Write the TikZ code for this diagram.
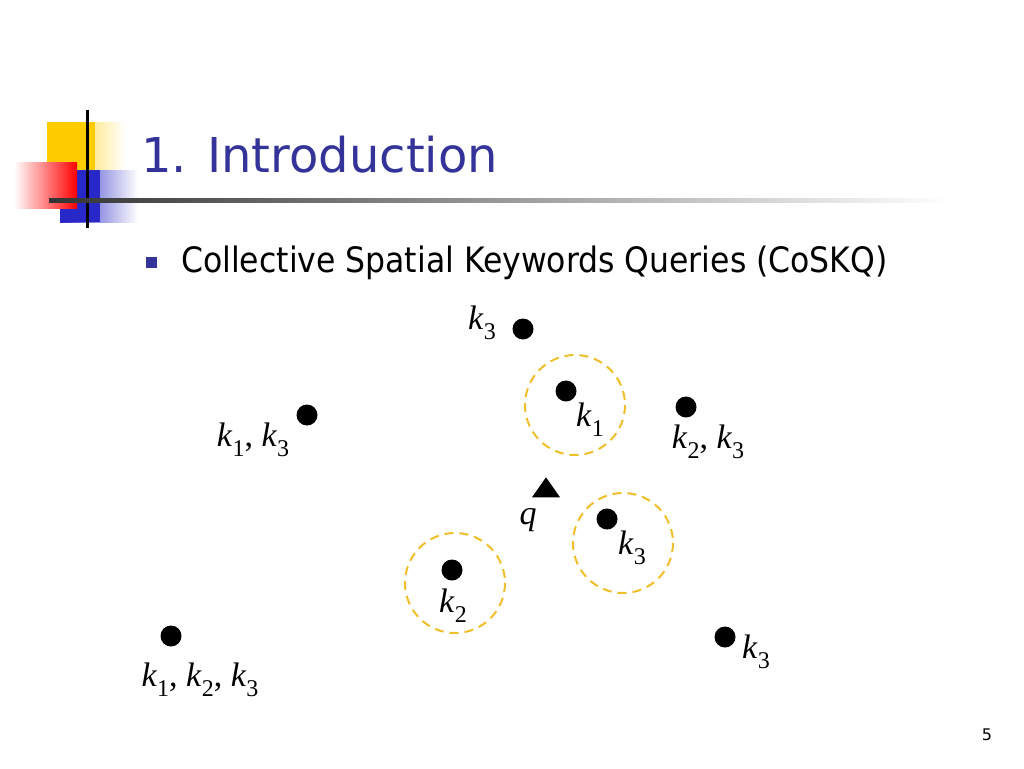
\documentclass[tikz,border=0pt]{standalone}
\usepackage{fontspec}
\usetikzlibrary{shapes.geometric}
\setmainfont{Liberation Serif}
\newfontfamily\tah{DejaVu Sans}
\newfontfamily\tahc{DejaVu Sans Condensed}
\newcommand{\kk}[1]{\textit{k}\raisebox{-0.3em}{\fontsize{24}{24}\selectfont #1}}
\definecolor{tblue}{RGB}{51,51,153}
\definecolor{lyel}{RGB}{255,204,0}
\definecolor{lblu}{RGB}{40,40,200}
\definecolor{ringc}{RGB}{240,190,40}
\begin{document}
\begin{tikzpicture}[x=1pt,y=-1pt,
  dot/.style={circle,fill=black,inner sep=0pt,minimum size=21pt},
  lab/.style={font=\fontsize{34}{34}\selectfont,inner sep=0pt},
  ring/.style={draw=ringc,line width=2pt,dash pattern=on 9pt off 6pt}]
\useasboundingbox (0,0) rectangle (1024,768);
% logo
\shade[left color=lyel,right color=white] (47,122) rectangle (125,170);
\fill[lyel] (47,122) rectangle (95,170);
\shade[left color=lblu,right color=white] (60,170) rectangle (138,222);
\fill[lblu] (60,170) rectangle (100,222);
\shade[left color=white,right color=red] (14,162) rectangle (77,208);
\draw[line width=3pt] (87,110) -- (87,228);
\shade[left color=black!80,right color=white] (49,198) rectangle (950,202);
\node[anchor=base west,inner sep=0pt,text=tblue,font=\tah\fontsize{48}{48}\selectfont] (title) at (141,172) {1. Introduction};
\node[fill=tblue,minimum size=11pt,inner sep=0pt] (b) at (151,262) {};
\node[anchor=base west,inner sep=0pt,font=\tahc\fontsize{35}{35}\selectfont] (sub) at (181,272) {Collective Spatial Keywords Queries (CoSKQ)};
% rings
\draw[ring] (575,405) circle (50);
\draw[ring] (623,543) circle (50);
\draw[ring] (455,583) circle (50);
% points
\node[dot] (p1) at (523,329) {};
\node[lab] (l1) at (482,323) {\kk{3}};
\node[dot] (p2) at (566,391) {};
\node[lab] (l2) at (590,420) {\kk{1}};
\node[dot] (p3) at (686,407) {};
\node[lab] (l3) at (708,442) {\kk{2}, \kk{3}};
\node[dot] (p4) at (307,415) {};
\node[lab] (l4) at (253,440) {\kk{1}, \kk{3}};
\node[fill=black,isosceles triangle,shape border rotate=90,inner sep=0pt,minimum height=20pt,minimum width=26pt,isosceles triangle apex angle=70] (q) at (546,490) {};
\node[lab] (lq) at (528,520) {\textit{q}};
\node[dot] (p5) at (607,519) {};
\node[lab] (l5) at (632,548) {\kk{3}};
\node[dot] (p6) at (452,570) {};
\node[lab] (l6) at (453,606) {\kk{2}};
\node[dot] (p7) at (171,636) {};
\node[lab] (l7) at (200,680) {\kk{1}, \kk{2}, \kk{3}};
\node[dot] (p8) at (725,637) {};
\node[lab] (l8) at (756,652) {\kk{3}};
\node[font=\tah\fontsize{16}{16}\selectfont] (pg) at (987,735) {5};
\end{tikzpicture}
\end{document}
